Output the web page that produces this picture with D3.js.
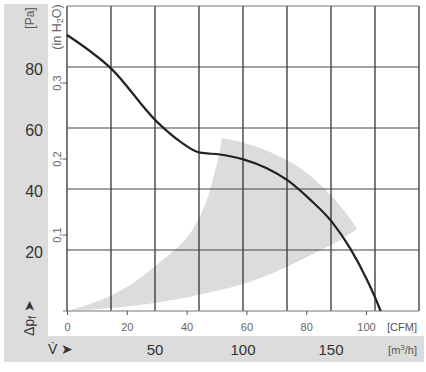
<!DOCTYPE html>
<html>
<head>
<meta charset="utf-8">
<script src="https://cdn.jsdelivr.net/npm/d3@7"></script>
<style>
  body { margin: 0; background: #fff; }
  svg { display: block; font-family: "Liberation Sans", Arial, sans-serif; }
</style>
</head>
<body>
<div id="chart"></div>
<script>
// fan curve: flow in m3/h, static pressure in Pa
const flowM3h = [0, 25.4, 51, 64.2, 75.6, 86.9, 100.2, 113.5, 125.2, 138, 150.4, 160.8, 170.3, 175, 178.2];
const pressurePa = [90.5, 79.3, 62.1, 55.6, 51.9, 51.3, 49.7, 46.8, 42.9, 36.6, 29.3, 20.6, 10.4, 4.5, 0];

// recommended operating zone, [m3/h, Pa]
const zoneLeft = [[0, 0], [13.1, 2.3], [24.4, 4.9], [35.8, 8.5], [47.2, 13.4], [58.5, 18.7], [67, 23.3], [73.9, 29.2], [79.5, 36.4], [83.5, 44.6], [86.4, 51.1], [88.1, 56.7]];
const zoneTop = [[88.1, 56.7], [101.1, 55.1], [115.3, 52.1], [132.4, 46.9], [147.7, 39.3], [158.5, 32.1], [164.8, 26.9]];
const zoneBottom = [[153.4, 22.6], [136.4, 17.7], [117, 12.5], [98.3, 8.5], [79.5, 5.9], [60.2, 3.6], [41.5, 2], [24.4, 1], [10.2, 0.3], [0, 0]];

const gridM3h = [0, 25, 50, 75, 100, 125, 150, 175, 200];
const gridPa = [0, 20, 40, 60, 80, 100];
const paLabels = [20, 40, 60, 80];
const inH2OTicks = [0.1, 0.2, 0.3];
const cfmTicks = [0, 20, 40, 60, 80, 100];
const m3hLabels = [50, 100, 150];

const width = 426, height = 372;

const svg = d3.select('#chart').append('svg')
  .attr('width', width)
  .attr('height', height);

const x = d3.scaleLinear().domain([0, 200]).range([67, 419]);
const y = d3.scaleLinear().domain([0, 100]).range([311, 6]);
const xCfm = d3.scaleLinear().domain([0, 200 / 1.699]).range([67, 419]);
const yIn = d3.scaleLinear().domain([0, 100 / 249.09]).range([311, 6]);

// grey bands
svg.append('rect').attr('x', 4).attr('y', 4).attr('width', 44).attr('height', 358).attr('fill', '#dcdcdc');
svg.append('rect').attr('x', 4).attr('y', 336).attr('width', 420).attr('height', 26).attr('fill', '#dcdcdc');

// operating zone
const seg = d3.line().x(d => x(d[0])).y(d => y(d[1])).curve(d3.curveCatmullRom);
const zonePath = seg(zoneLeft) + seg(zoneTop).replace(/^M/, 'L') + seg(zoneBottom).replace(/^M/, 'L') + 'Z';
svg.append('path').attr('d', zonePath).attr('fill', '#dcdcdc');

// grid
svg.append('g').selectAll('line')
  .data(gridM3h)
  .join('line')
  .attr('x1', d => x(d)).attr('x2', d => x(d))
  .attr('y1', y(100)).attr('y2', y(0))
  .attr('stroke', '#222').attr('stroke-width', 1.2);

svg.append('g').selectAll('line')
  .data(gridPa)
  .join('line')
  .attr('x1', d => d === 0 ? 63 : x(0)).attr('x2', x(200))
  .attr('y1', d => y(d)).attr('y2', d => y(d))
  .attr('stroke', d => (d === 0 || d === 100) ? '#777' : '#444')
  .attr('stroke-width', 1.2);

// CFM axis
const cfmAxis = svg.append('g')
  .attr('transform', `translate(0,${y(0)})`)
  .call(d3.axisBottom(xCfm).tickValues(cfmTicks).tickSize(4).tickPadding(8));
cfmAxis.select('.domain').remove();
cfmAxis.selectAll('.tick line').attr('stroke', '#555');
cfmAxis.selectAll('.tick text').attr('fill', '#666').attr('font-size', 11).attr('font-family', 'Liberation Sans, Arial, sans-serif');
svg.append('text').attr('x', 417).attr('y', 331).attr('text-anchor', 'end')
  .attr('fill', '#555').attr('font-size', 11).text('[CFM]');

// in H2O ticks
svg.append('g').selectAll('line')
  .data(inH2OTicks)
  .join('line')
  .attr('x1', x(0) - 4).attr('x2', x(0))
  .attr('y1', d => yIn(d)).attr('y2', d => yIn(d))
  .attr('stroke', '#555');
svg.append('g').selectAll('text')
  .data(inH2OTicks)
  .join('text')
  .attr('transform', d => `translate(61,${yIn(d)}) rotate(-90)`)
  .attr('text-anchor', 'middle')
  .attr('fill', '#666').attr('font-size', 11)
  .text(d => String(d).replace('.', ','));
svg.append('text')
  .attr('transform', 'translate(61,27) rotate(-90)')
  .attr('text-anchor', 'middle')
  .attr('fill', '#666').attr('font-size', 12.5)
  .html('(in H<tspan font-size="9" dy="2">2</tspan><tspan dy="-2">O)</tspan>');

// Pa labels
svg.append('g').selectAll('text')
  .data(paLabels)
  .join('text')
  .attr('x', 43).attr('y', d => y(d) + 8)
  .attr('text-anchor', 'end')
  .attr('fill', '#333').attr('font-size', 16)
  .text(d => d);
svg.append('text')
  .attr('transform', 'translate(34,18) rotate(-90)')
  .attr('text-anchor', 'middle')
  .attr('fill', '#555').attr('font-size', 12)
  .text('[Pa]');

// m3/h labels
svg.append('g').selectAll('text')
  .data(m3hLabels)
  .join('text')
  .attr('x', d => x(d)).attr('y', 355)
  .attr('text-anchor', 'middle')
  .attr('fill', '#333').attr('font-size', 15)
  .text(d => d);
svg.append('text').attr('x', 417).attr('y', 354).attr('text-anchor', 'end')
  .attr('fill', '#555').attr('font-size', 11)
  .html('[m<tspan font-size="8" dy="-4">3</tspan><tspan dy="4">/h]</tspan>');

// axis symbols
svg.append('text').attr('x', 48).attr('y', 354)
  .attr('fill', '#333').attr('font-size', 14).text('V\u0307 \u27A4');
svg.append('text')
  .attr('transform', 'translate(34,336) rotate(-90)')
  .attr('fill', '#333').attr('font-size', 14)
  .html('\u0394p<tspan font-size="10" dy="2">f</tspan><tspan dy="-2"> \u27A4</tspan>');

// fan curve
const curve = d3.line()
  .x((d, i) => x(flowM3h[i]))
  .y((d, i) => y(pressurePa[i]))
  .curve(d3.curveMonotoneX);
svg.append('path')
  .attr('d', curve(flowM3h))
  .attr('fill', 'none')
  .attr('stroke', '#222')
  .attr('stroke-width', 2.2);
</script>
</body>
</html>
